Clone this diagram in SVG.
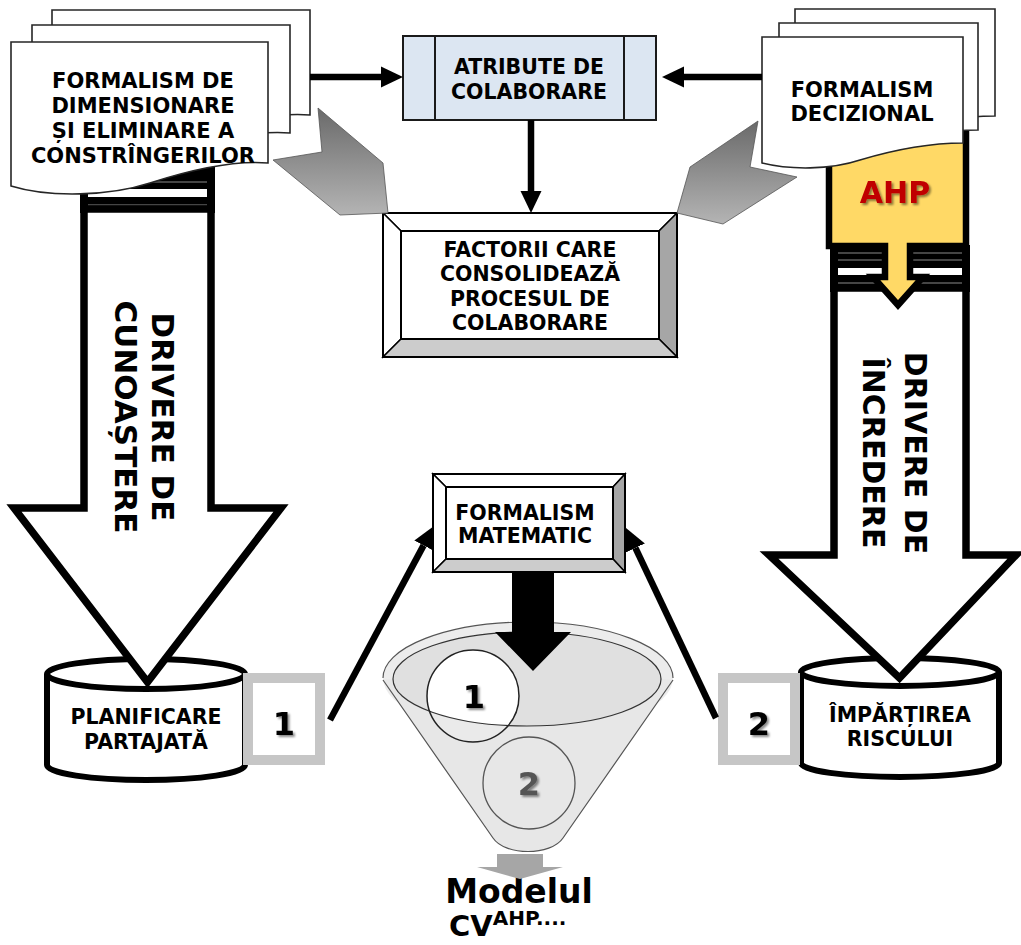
<svg xmlns="http://www.w3.org/2000/svg" width="1021" height="945" viewBox="0 0 1021 945">
<defs>
  <style>
    .t{font-family:"DejaVu Sans",Verdana,sans-serif;font-weight:bold;fill:#000;text-anchor:middle}
    .f20{font-size:20.5px}
    .f21{font-size:21px}
    .doc{fill:#fff;stroke:#262626;stroke-width:1.6}
    .big{fill:#fff;stroke:#000;stroke-width:7.5;stroke-linejoin:miter;stroke-miterlimit:10}
    .cyl{fill:#fff;stroke:#000;stroke-width:6}
    .ln{stroke:#000;stroke-width:6.5;fill:none}
    .nb{fill:#fff;stroke:#c6c6c6;stroke-width:10}
    .gl{stroke:#8a8a8a;stroke-width:1}
    .bev{stroke:#000;stroke-width:1.5}
    .num{font-family:"DejaVu Sans",Verdana,sans-serif;font-weight:bold;font-size:32px;text-anchor:middle}
  </style>
  <marker id="ah" viewBox="0 -11 22 22" refX="0" refY="0" markerWidth="22" markerHeight="22" markerUnits="userSpaceOnUse" orient="auto">
    <path d="M0,-10.5 L22,0 L0,10.5 Z" fill="#000"/>
  </marker>
  <linearGradient id="gshape" x1="0" y1="0" x2="0" y2="1">
    <stop offset="0" stop-color="#6a6a6a"/>
    <stop offset="1" stop-color="#b4b4b4"/>
  </linearGradient>
  <filter id="sh" x="-30%" y="-30%" width="160%" height="160%">
    <feDropShadow dx="2" dy="2" stdDeviation="1" flood-color="#000" flood-opacity="0.45"/>
  </filter>
</defs>

<rect width="1021" height="945" fill="#fff"/>

<!-- storage cylinders -->
<g id="planificare">
  <path class="cyl" d="M47,674 A99,15 0 0,1 245,674 V765 A99,15 0 0,1 47,765 Z"/>
  <path class="cyl" fill="none" d="M47,674 A99,15 0 0,0 245,674"/>
  <text class="t f20" x="146" y="724">PLANIFICARE</text>
  <text class="t f20" x="146" y="749">PARTAJATĂ</text>
</g>
<g id="impartirea">
  <path class="cyl" d="M801,672 A99,14 0 0,1 999,672 V763 A99,14 0 0,1 801,763 Z"/>
  <path class="cyl" fill="none" d="M801,672 A99,14 0 0,0 999,672"/>
  <text class="t f20" x="900" y="722">ÎMPĂRȚIREA</text>
  <text class="t f20" x="900" y="746">RISCULUI</text>
</g>

<!-- numbered tags -->
<g id="tag1">
  <rect class="nb" x="248" y="678" width="72" height="82"/>
  <text class="num" x="284" y="735" filter="url(#sh)">1</text>
</g>
<g id="tag2">
  <rect class="nb" x="723" y="678" width="72" height="82"/>
  <text class="num" x="759" y="735" filter="url(#sh)">2</text>
</g>

<!-- striped block arrow, left -->
<g id="drivere-cunoastere">
  <rect x="80" y="165" width="135" height="48" fill="#000"/>
  <rect x="88" y="189" width="119" height="8" fill="#fff"/>
  <line class="gl" x1="88" y1="182" x2="207" y2="182"/>
  <line class="gl" x1="88" y1="205" x2="207" y2="205"/>
  <path class="big" d="M84,209 H211 V508 H281 L147.5,682 L14,508 H84 Z"/>
  <text class="t" font-size="31" transform="rotate(90 152 417)" x="152" y="417">DRIVERE DE</text>
  <text class="t" font-size="31" transform="rotate(90 115 417)" x="115" y="417">CUNOAȘTERE</text>
</g>

<!-- striped block arrow, right -->
<g id="drivere-incredere">
  <rect x="830" y="245" width="140" height="47" fill="#000"/>
  <rect x="838" y="268" width="124" height="7" fill="#fff"/>
  <line class="gl" x1="838" y1="253" x2="962" y2="253"/>
  <line class="gl" x1="838" y1="260" x2="962" y2="260"/>
  <line class="gl" x1="838" y1="283" x2="962" y2="283"/>
  <path class="big" d="M834,288 H966 V555 H1016 L899.5,678 L769,555 H834 Z"/>
  <text class="t" font-size="30" transform="rotate(90 905 453)" x="905" y="453">DRIVERE DE</text>
  <text class="t" font-size="30" transform="rotate(90 863 453)" x="863" y="453">ÎNCREDERE</text>
</g>

<!-- AHP callout -->
<g id="ahp">
  <path d="M829,125 H966 V246 H910 V277 H923 L898,305 L873,277 H885 V246 H829 Z" fill="#ffd966" stroke="#000" stroke-width="6.5" stroke-linejoin="miter"/>
  <text class="t" x="895" y="203" font-size="30" style="fill:#c00000" filter="url(#sh)">AHP</text>
</g>

<!-- document stacks -->
<g id="formalism-dimensionare">
  <path class="doc" d="M52,10 H310 V115 C274,112 232,122 191,135 C152,148 91,150 52,138 Z"/>
  <path class="doc" d="M32,25 H290 V133 C254,130 212,140 171,153 C132,166 71,168 32,156 Z"/>
  <path class="doc" d="M11,42 H268 V163 C232,160 190,170 150,183 C110,196 50,198 11,186 Z"/>
  <text class="t f21" x="143" y="88">FORMALISM DE</text>
  <text class="t f21" x="143" y="113">DIMENSIONARE</text>
  <text class="t f21" x="143" y="138">ȘI ELIMINARE A</text>
  <text class="t f21" x="143" y="163">CONSTRÎNGERILOR</text>
</g>
<g id="formalism-decizional">
  <path class="doc" d="M795,9 H995 V116 C962,116 932,121 893,133 C863,143 823,143 795,136 Z"/>
  <path class="doc" d="M779,23 H978 V130 C945,130 915,135 877,147 C847,157 807,157 779,150 Z"/>
  <path class="doc" d="M762,37 H963 V143 C930,143 900,148 860,160 C830,170 790,170 762,163 Z"/>
  <text class="t f21" x="862" y="97">FORMALISM</text>
  <text class="t f21" x="862" y="121">DECIZIONAL</text>
</g>

<!-- predefined-process box -->
<g id="atribute">
  <rect x="403" y="36" width="253" height="84" fill="#dce6f2" stroke="#1a1a1a" stroke-width="2"/>
  <line x1="435" y1="36" x2="435" y2="120" stroke="#1a1a1a" stroke-width="2"/>
  <line x1="624" y1="36" x2="624" y2="120" stroke="#1a1a1a" stroke-width="2"/>
  <text class="t f20" x="529" y="74">ATRIBUTE DE</text>
  <text class="t f20" x="529" y="99">COLABORARE</text>
</g>

<!-- bevelled box -->
<g id="factorii">
  <polygon class="bev" points="383,213 677,213 659,231 401,231" fill="#fff"/>
  <polygon class="bev" points="383,213 401,231 401,339 383,357" fill="#fff"/>
  <polygon class="bev" points="677,213 677,357 659,339 659,231" fill="#a6a6a6"/>
  <polygon class="bev" points="383,357 677,357 659,339 401,339" fill="#cccccc"/>
  <rect x="401" y="231" width="258" height="108" fill="#fff" stroke="#000" stroke-width="2"/>
  <rect x="383" y="213" width="294" height="144" fill="none" stroke="#000" stroke-width="2"/>
  <text class="t f20" x="530" y="257">FACTORII CARE</text>
  <text class="t f20" x="530" y="281">CONSOLIDEAZĂ</text>
  <text class="t f20" x="530" y="306">PROCESUL DE</text>
  <text class="t f20" x="530" y="330">COLABORARE</text>
</g>

<g id="formalism-matematic">
  <polygon class="bev" points="433,474 625,474 613,487 446,487" fill="#fff"/>
  <polygon class="bev" points="433,474 446,487 446,559 433,572" fill="#fff"/>
  <polygon class="bev" points="625,474 625,572 613,559 613,487" fill="#a6a6a6"/>
  <polygon class="bev" points="433,572 625,572 613,559 446,559" fill="#cccccc"/>
  <rect x="446" y="487" width="167" height="72" fill="#fff" stroke="#000" stroke-width="2"/>
  <rect x="433" y="474" width="192" height="98" fill="none" stroke="#000" stroke-width="2"/>
  <text class="t f20" x="525" y="520">FORMALISM</text>
  <text class="t f20" x="525" y="543">MATEMATIC</text>
</g>

<!-- funnel -->
<g id="funnel">
  <path d="M383,680 L493,838 C505,856 551,856 563,838 L673,680 Z" fill="#e6e6e6"/>
  <ellipse cx="528" cy="678" rx="145" ry="56" fill="#ececec"/>
  <ellipse cx="527" cy="679" rx="134" ry="47" fill="#e0e0e0"/>
  <circle cx="473" cy="696" r="46" fill="#fff"/>
  <path d="M393,679 A134,47 0 0,0 661,679 L673,680 L563,838 C551,856 505,856 493,838 L383,680 Z" fill="#e6e6e6" fill-opacity="0.85"/>
  <ellipse cx="527" cy="679" rx="134" ry="47" fill="none" stroke="#333" stroke-width="1.2"/>
  <path d="M383,678 A145,56 0 0,1 673,678" fill="none" stroke="#555" stroke-width="1.2"/>
  <path d="M383,680 L493,838 C505,856 551,856 563,838 L673,680" fill="none" stroke="#555" stroke-width="1.2"/>
  <circle cx="473" cy="696" r="46" fill="none" stroke="#222" stroke-width="1.5"/>
  <circle cx="529" cy="783" r="46" fill="none" stroke="#555" stroke-width="1.3"/>
  <text class="num" x="474" y="708" filter="url(#sh)">1</text>
  <text class="num" x="529" y="795" fill="#555" filter="url(#sh)">2</text>
</g>

<!-- resulting model -->
<g id="modelul">
  <text class="t" x="519" y="903" font-size="33">Modelul</text>
  <text class="t" x="449" y="936" font-size="29" style="text-anchor:start">CV<tspan dy="-11" font-size="20">AHP....</tspan></text>
</g>

<!-- connectors -->
<g id="connectors">
  <polygon points="318,108 383,163 388,213 340,215 273,160 322,152" fill="url(#gshape)" stroke="#555" stroke-width="0.8"/>
  <polygon points="758,121 690,167 677,213 723,224 797,177 750,167" fill="url(#gshape)" stroke="#555" stroke-width="0.8"/>
  <line class="ln" x1="310" y1="77" x2="381" y2="77" marker-end="url(#ah)"/>
  <line class="ln" x1="762" y1="77" x2="684" y2="77" marker-end="url(#ah)"/>
  <line class="ln" x1="531" y1="120" x2="531" y2="191" marker-end="url(#ah)"/>
  <line class="ln" x1="330" y1="720" x2="423.6" y2="545.4" marker-end="url(#ah)"/>
  <line class="ln" x1="716" y1="718" x2="635.4" y2="547.9" marker-end="url(#ah)"/>
  <polygon points="512,572 554,572 554,632 571,632 533,671 495,632 512,632" fill="#000"/>
  <polygon points="497,854 543,854 543,867 563,867 520,879 477,867 497,867" fill="#a6a6a6"/>
</g>
</svg>
